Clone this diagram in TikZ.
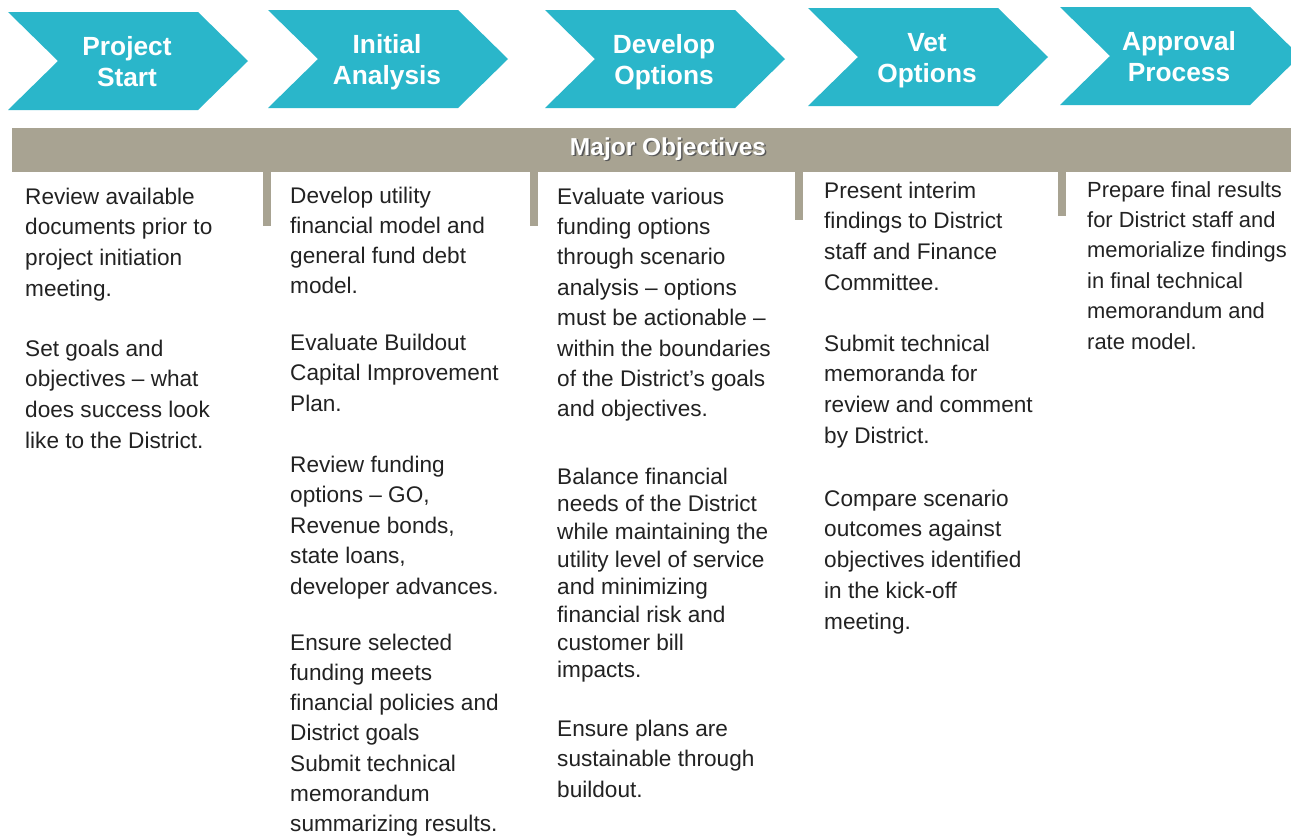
\documentclass[tikz,border=0pt]{standalone}
\usepackage{fontspec}
\setmainfont{Liberation Sans}
\definecolor{chevcyan}{HTML}{2AB6CA}
\definecolor{bargray}{HTML}{A8A392}
\definecolor{ink}{HTML}{222222}
\tikzset{
  chevron/.style={fill=chevcyan, draw=none},
  barfill/.style={fill=bargray, draw=none},
  body/.style={anchor=base west, inner sep=0pt, text=ink, font=\fontsize{22.6}{27}\selectfont},
  bodynarrow/.style={body, font=\fontsize{21.9}{27}\selectfont},
  chevtext/.style={anchor=base, inner sep=0pt, text=white, font=\fontsize{26.3}{31}\selectfont\bfseries},
  bartext/.style={anchor=base, inner sep=0pt, text=white, font=\fontsize{24.5}{29}\selectfont\bfseries},
  barshadow/.style={bartext, text=black!65},
}
\newcommand{\txtlines}[6]{%
  \foreach \t [count=\i] in {#6} {\node[#1] (#2-\i) at (#3, {#4+(\i-1)*#5}) {\t};}%
}
\newcommand{\chev}[5]{%
  \fill[chevron] (#2,#3) -- ({#2+190},#3) -- ({#2+240},{#3+49}) -- ({#2+190},{#3+98}) -- (#2,{#3+98}) -- ({#2+50},{#3+49}) -- cycle;
  \node[chevtext] (#1-a) at ({#2+119},{#3+43}) {#4};
  \node[chevtext] (#1-b) at ({#2+119},{#3+74}) {#5};
}
\begin{document}
\begin{tikzpicture}[x=1pt,y=-1pt]
\useasboundingbox (0,0) rectangle (1291,836);
\clip (0,0) rectangle (1291,836);
\fill[white] (0,0) rectangle (1291,836);

% chevrons
\chev{ch1}{8}{12}{Project}{Start}
\chev{ch2}{268}{10}{Initial}{Analysis}
\chev{ch3}{545}{10}{Develop}{Options}
\chev{ch4}{808}{8}{Vet}{Options}
\chev{ch5}{1060}{7}{Approval}{Process}

% objectives bar
\fill[barfill] (12,128) rectangle (1291,172);
\fill[barfill] (263,168) rectangle (271,226);
\fill[barfill] (530,168) rectangle (538,226);
\fill[barfill] (795,168) rectangle (803,220);
\fill[barfill] (1058,168) rectangle (1066,216);
\node[barshadow] (mo-s) at (669.6,156.6) {Major Objectives};
\node[bartext] (mo) at (668,155) {Major Objectives};

% column 1
\txtlines{body}{c1p1}{25}{204}{30.7}{Review available,documents prior to,project initiation,meeting.}
\txtlines{body}{c1p2}{25}{356}{30.7}{Set goals and,objectives – what,does success look,like to the District.}

% column 2
\txtlines{body}{c2p1}{290}{203}{30.3}{Develop utility,financial model and,general fund debt,model.}
\txtlines{body}{c2p2}{290}{350}{30.5}{Evaluate Buildout,Capital Improvement,Plan.}
\txtlines{body}{c2p3}{290}{472}{30.5}{Review funding,{options – GO,},{Revenue bonds,},{state loans,},developer advances.}
\txtlines{body}{c2p4}{290}{650}{30.3}{Ensure selected,funding meets,financial policies and,District goals,Submit technical,memorandum,summarizing results.}

% column 3
\txtlines{body}{c3p1}{557}{204}{30.4}{Evaluate various,funding options,through scenario,analysis – options,must be actionable –,within the boundaries,of the District's goals,and objectives.}
\txtlines{body}{c3p2}{557}{484}{27.7}{Balance financial,needs of the District,while maintaining the,utility level of service,and minimizing,financial risk and,customer bill,impacts.}
\txtlines{body}{c3p3}{557}{736}{30.5}{Ensure plans are,sustainable through,buildout.}

% column 4
\txtlines{body}{c4p1}{824}{198}{30.7}{Present interim,findings to District,staff and Finance,Committee.}
\txtlines{body}{c4p2}{824}{351}{30.7}{Submit technical,memoranda for,review and comment,by District.}
\txtlines{body}{c4p3}{824}{506}{30.75}{Compare scenario,outcomes against,objectives identified,in the kick-off,meeting.}

% column 5
\txtlines{bodynarrow}{c5p1}{1087}{197}{30.4}{Prepare final results,for District staff and,memorialize findings,in final technical,memorandum and,rate model.}
\end{tikzpicture}
\end{document}
